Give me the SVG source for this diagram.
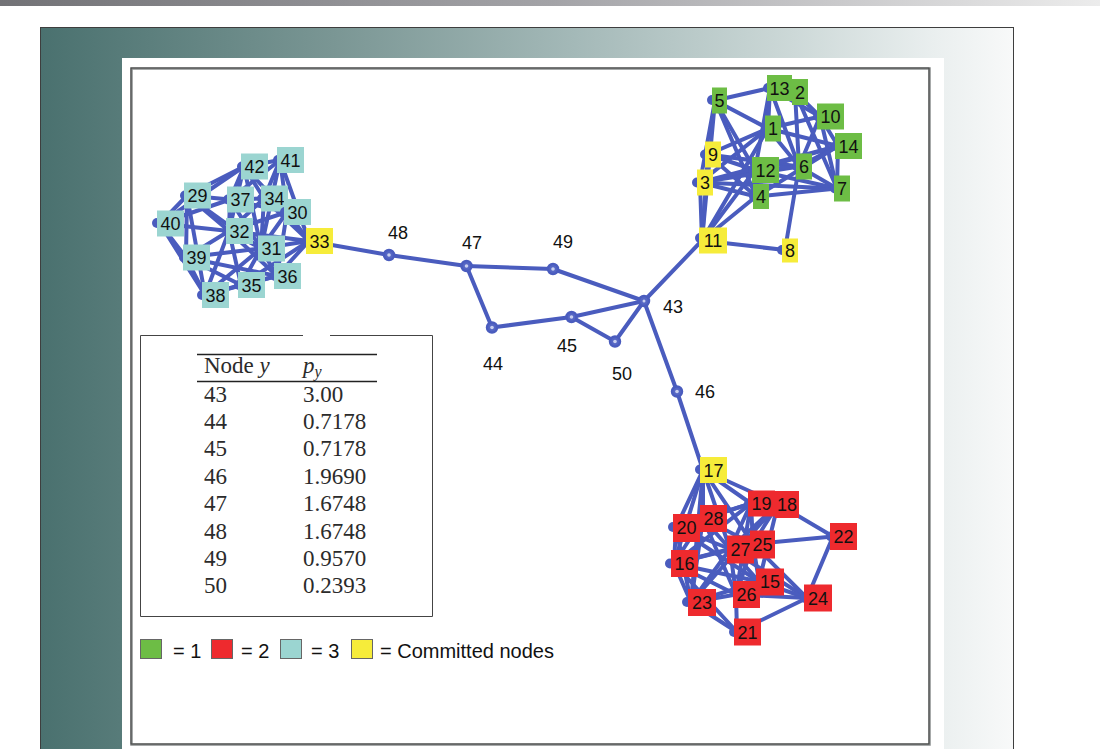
<svg xmlns="http://www.w3.org/2000/svg" width="1100" height="749" viewBox="0 0 1100 749">
<defs>
<linearGradient id="bar" x1="0" y1="0" x2="1" y2="0">
<stop offset="0" stop-color="#727276"/><stop offset="0.5" stop-color="#a3a3a7"/><stop offset="1" stop-color="#ececec"/>
</linearGradient>
<linearGradient id="panel" x1="0" y1="0" x2="1" y2="0">
<stop offset="0" stop-color="#4a716f"/><stop offset="0.3" stop-color="#7a9694"/><stop offset="0.55" stop-color="#a4b9b8"/><stop offset="0.75" stop-color="#c8d5d4"/><stop offset="0.92" stop-color="#eaefef"/><stop offset="1" stop-color="#f8f9f9"/>
</linearGradient>
<style>
.e{stroke:#4a5cbe;stroke-width:4;stroke-linecap:round;fill:none}
.c{fill:#5566c4;stroke:#4a5cbe;stroke-width:2.5}
.ci{fill:#c9d0ef}
.b{fill:#4a5cbe}
.g{fill:#6dbd45}
.r{fill:#ee2a2e}
.t{fill:#9bd5d1}
.y{fill:#f6ec3a}
.lb{font-family:"Liberation Sans",Arial,sans-serif;font-size:18px;fill:#111;text-anchor:middle}
.tb{font-family:"Liberation Serif","Times New Roman",serif;font-size:23px;fill:#2b2b2b}
.lg{font-family:"Liberation Sans",Arial,sans-serif;font-size:20px;fill:#111}
.sq{stroke:#666;stroke-width:1}
</style>
</defs>
<rect x="0" y="0" width="1100" height="6" fill="url(#bar)"/>
<rect x="40.5" y="27.5" width="973" height="730" fill="url(#panel)" stroke="#3e3e3e" stroke-width="1"/>
<rect x="122" y="58" width="822" height="700" fill="#ffffff"/>
<rect x="131.5" y="68.5" width="798" height="676" fill="#ffffff" stroke="#8a8f8e" stroke-width="2.5"/>
<rect x="131" y="68" width="798" height="676" fill="none" stroke="#444" stroke-width="1"/>

<g id="connectors">
<!-- middle -->
<line class="e" x1="309" y1="241" x2="389" y2="255"/>
<line class="e" x1="389" y1="255" x2="466.5" y2="266"/>
<line class="e" x1="466.5" y1="266" x2="553" y2="269"/>
<line class="e" x1="466.5" y1="266" x2="492" y2="327.5"/>
<line class="e" x1="553" y1="269" x2="644" y2="301"/>
<line class="e" x1="492" y1="327.5" x2="571.5" y2="317"/>
<line class="e" x1="571.5" y1="317" x2="644" y2="301"/>
<line class="e" x1="571.5" y1="317" x2="615" y2="341.5"/>
<line class="e" x1="615" y1="341.5" x2="644" y2="301"/>
<line class="e" x1="644" y1="301" x2="702" y2="240.5"/>
<line class="e" x1="644" y1="301" x2="677" y2="391.5"/>
<line class="e" x1="677" y1="391.5" x2="703" y2="470"/>
<!-- cyan cluster -->
<line class="e" x1="187" y1="195.5" x2="160" y2="223.5"/>
<line class="e" x1="187" y1="195.5" x2="230" y2="199.5"/>
<line class="e" x1="187" y1="195.5" x2="244" y2="166.5"/>
<line class="e" x1="187" y1="195.5" x2="186" y2="257.5"/>
<line class="e" x1="187" y1="195.5" x2="229" y2="231"/>
<line class="e" x1="187" y1="195.5" x2="205" y2="295"/>
<line class="e" x1="187" y1="195.5" x2="261" y2="248.5"/>
<line class="e" x1="160" y1="223.5" x2="186" y2="257.5"/>
<line class="e" x1="160" y1="223.5" x2="205" y2="295"/>
<line class="e" x1="160" y1="223.5" x2="229" y2="231"/>
<line class="e" x1="160" y1="223.5" x2="230" y2="199.5"/>
<line class="e" x1="160" y1="223.5" x2="244" y2="166.5"/>
<line class="e" x1="244" y1="166.5" x2="280" y2="160"/>
<line class="e" x1="244" y1="166.5" x2="230" y2="199.5"/>
<line class="e" x1="244" y1="166.5" x2="264" y2="198.5"/>
<line class="e" x1="244" y1="166.5" x2="287" y2="212"/>
<line class="e" x1="244" y1="166.5" x2="261" y2="248.5"/>
<line class="e" x1="244" y1="166.5" x2="229" y2="231"/>
<line class="e" x1="280" y1="160" x2="264" y2="198.5"/>
<line class="e" x1="280" y1="160" x2="287" y2="212"/>
<line class="e" x1="280" y1="160" x2="261" y2="248.5"/>
<line class="e" x1="280" y1="160" x2="309" y2="241"/>
<line class="e" x1="280" y1="160" x2="230" y2="199.5"/>
<line class="e" x1="230" y1="199.5" x2="264" y2="198.5"/>
<line class="e" x1="230" y1="199.5" x2="229" y2="231"/>
<line class="e" x1="230" y1="199.5" x2="261" y2="248.5"/>
<line class="e" x1="230" y1="199.5" x2="287" y2="212"/>
<line class="e" x1="264" y1="198.5" x2="287" y2="212"/>
<line class="e" x1="264" y1="198.5" x2="229" y2="231"/>
<line class="e" x1="264" y1="198.5" x2="261" y2="248.5"/>
<line class="e" x1="264" y1="198.5" x2="309" y2="241"/>
<line class="e" x1="287" y1="212" x2="309" y2="241"/>
<line class="e" x1="287" y1="212" x2="261" y2="248.5"/>
<line class="e" x1="287" y1="212" x2="277" y2="276"/>
<line class="e" x1="287" y1="212" x2="229" y2="231"/>
<line class="e" x1="229" y1="231" x2="261" y2="248.5"/>
<line class="e" x1="229" y1="231" x2="186" y2="257.5"/>
<line class="e" x1="229" y1="231" x2="205" y2="295"/>
<line class="e" x1="229" y1="231" x2="241" y2="285"/>
<line class="e" x1="229" y1="231" x2="309" y2="241"/>
<line class="e" x1="229" y1="231" x2="277" y2="276"/>
<line class="e" x1="261" y1="248.5" x2="309" y2="241"/>
<line class="e" x1="261" y1="248.5" x2="277" y2="276"/>
<line class="e" x1="261" y1="248.5" x2="241" y2="285"/>
<line class="e" x1="261" y1="248.5" x2="205" y2="295"/>
<line class="e" x1="186" y1="257.5" x2="205" y2="295"/>
<line class="e" x1="186" y1="257.5" x2="241" y2="285"/>
<line class="e" x1="186" y1="257.5" x2="261" y2="248.5"/>
<line class="e" x1="186" y1="257.5" x2="277" y2="276"/>
<line class="e" x1="205" y1="295" x2="241" y2="285"/>
<line class="e" x1="205" y1="295" x2="277" y2="276"/>
<line class="e" x1="241" y1="285" x2="277" y2="276"/>
<line class="e" x1="241" y1="285" x2="309" y2="241"/>
<line class="e" x1="277" y1="276" x2="309" y2="241"/>
<!-- green cluster -->
<line class="e" x1="715" y1="100.5" x2="770" y2="88"/>
<line class="e" x1="715" y1="100.5" x2="700" y2="182.5"/>
<line class="e" x1="715" y1="100.5" x2="702" y2="240.5"/>
<line class="e" x1="715" y1="100.5" x2="768" y2="128.5"/>
<line class="e" x1="715" y1="100.5" x2="756" y2="196.5"/>
<line class="e" x1="715" y1="100.5" x2="755" y2="170"/>
<line class="e" x1="770" y1="88" x2="795" y2="92"/>
<line class="e" x1="770" y1="88" x2="755" y2="170"/>
<line class="e" x1="770" y1="88" x2="799" y2="166.5"/>
<line class="e" x1="770" y1="88" x2="820" y2="116.5"/>
<line class="e" x1="770" y1="88" x2="768" y2="128.5"/>
<line class="e" x1="795" y1="92" x2="799" y2="166.5"/>
<line class="e" x1="795" y1="92" x2="820" y2="116.5"/>
<line class="e" x1="795" y1="92" x2="837" y2="188.5"/>
<line class="e" x1="768" y1="128.5" x2="708" y2="154.5"/>
<line class="e" x1="768" y1="128.5" x2="820" y2="116.5"/>
<line class="e" x1="768" y1="128.5" x2="702" y2="240.5"/>
<line class="e" x1="768" y1="128.5" x2="799" y2="166.5"/>
<line class="e" x1="768" y1="128.5" x2="700" y2="182.5"/>
<line class="e" x1="768" y1="128.5" x2="838" y2="146"/>
<line class="e" x1="708" y1="154.5" x2="755" y2="170"/>
<line class="e" x1="708" y1="154.5" x2="799" y2="166.5"/>
<line class="e" x1="708" y1="154.5" x2="756" y2="196.5"/>
<line class="e" x1="708" y1="154.5" x2="702" y2="240.5"/>
<line class="e" x1="700" y1="182.5" x2="755" y2="170"/>
<line class="e" x1="700" y1="182.5" x2="799" y2="166.5"/>
<line class="e" x1="700" y1="182.5" x2="838" y2="146"/>
<line class="e" x1="700" y1="182.5" x2="837" y2="188.5"/>
<line class="e" x1="700" y1="182.5" x2="756" y2="196.5"/>
<line class="e" x1="700" y1="182.5" x2="702" y2="240.5"/>
<line class="e" x1="755" y1="170" x2="838" y2="146"/>
<line class="e" x1="755" y1="170" x2="799" y2="166.5"/>
<line class="e" x1="755" y1="170" x2="837" y2="188.5"/>
<line class="e" x1="755" y1="170" x2="756" y2="196.5"/>
<line class="e" x1="755" y1="170" x2="702" y2="240.5"/>
<line class="e" x1="799" y1="166.5" x2="838" y2="146"/>
<line class="e" x1="799" y1="166.5" x2="837" y2="188.5"/>
<line class="e" x1="799" y1="166.5" x2="820" y2="116.5"/>
<line class="e" x1="799" y1="166.5" x2="785" y2="250"/>
<line class="e" x1="820" y1="116.5" x2="838" y2="146"/>
<line class="e" x1="820" y1="116.5" x2="837" y2="188.5"/>
<line class="e" x1="838" y1="146" x2="837" y2="188.5"/>
<line class="e" x1="756" y1="196.5" x2="837" y2="188.5"/>
<line class="e" x1="756" y1="196.5" x2="838" y2="146"/>
<line class="e" x1="756" y1="196.5" x2="702" y2="240.5"/>
<line class="e" x1="702" y1="240.5" x2="785" y2="250"/>
<!-- red cluster -->
<line class="e" x1="703" y1="470" x2="751" y2="503.5"/>
<line class="e" x1="703" y1="470" x2="778" y2="504"/>
<line class="e" x1="703" y1="470" x2="703" y2="518.5"/>
<line class="e" x1="703" y1="470" x2="676" y2="527.5"/>
<line class="e" x1="703" y1="470" x2="674" y2="563.5"/>
<line class="e" x1="703" y1="470" x2="730" y2="549"/>
<line class="e" x1="703" y1="470" x2="753" y2="544"/>
<line class="e" x1="703" y1="470" x2="691" y2="602.5"/>
<line class="e" x1="751" y1="503.5" x2="778" y2="504"/>
<line class="e" x1="751" y1="503.5" x2="703" y2="518.5"/>
<line class="e" x1="751" y1="503.5" x2="730" y2="549"/>
<line class="e" x1="751" y1="503.5" x2="753" y2="544"/>
<line class="e" x1="751" y1="503.5" x2="736" y2="594.5"/>
<line class="e" x1="751" y1="503.5" x2="674" y2="563.5"/>
<line class="e" x1="751" y1="503.5" x2="676" y2="527.5"/>
<line class="e" x1="778" y1="504" x2="833" y2="536.5"/>
<line class="e" x1="778" y1="504" x2="753" y2="544"/>
<line class="e" x1="778" y1="504" x2="730" y2="549"/>
<line class="e" x1="778" y1="504" x2="759" y2="581.5"/>
<line class="e" x1="778" y1="504" x2="691" y2="602.5"/>
<line class="e" x1="833" y1="536.5" x2="753" y2="544"/>
<line class="e" x1="833" y1="536.5" x2="807" y2="598"/>
<line class="e" x1="703" y1="518.5" x2="676" y2="527.5"/>
<line class="e" x1="703" y1="518.5" x2="730" y2="549"/>
<line class="e" x1="703" y1="518.5" x2="753" y2="544"/>
<line class="e" x1="703" y1="518.5" x2="674" y2="563.5"/>
<line class="e" x1="703" y1="518.5" x2="691" y2="602.5"/>
<line class="e" x1="703" y1="518.5" x2="736" y2="594.5"/>
<line class="e" x1="676" y1="527.5" x2="674" y2="563.5"/>
<line class="e" x1="676" y1="527.5" x2="691" y2="602.5"/>
<line class="e" x1="676" y1="527.5" x2="730" y2="549"/>
<line class="e" x1="676" y1="527.5" x2="759" y2="581.5"/>
<line class="e" x1="730" y1="549" x2="753" y2="544"/>
<line class="e" x1="730" y1="549" x2="674" y2="563.5"/>
<line class="e" x1="730" y1="549" x2="691" y2="602.5"/>
<line class="e" x1="730" y1="549" x2="736" y2="594.5"/>
<line class="e" x1="730" y1="549" x2="759" y2="581.5"/>
<line class="e" x1="730" y1="549" x2="807" y2="598"/>
<line class="e" x1="753" y1="544" x2="759" y2="581.5"/>
<line class="e" x1="753" y1="544" x2="736" y2="594.5"/>
<line class="e" x1="753" y1="544" x2="807" y2="598"/>
<line class="e" x1="753" y1="544" x2="674" y2="563.5"/>
<line class="e" x1="674" y1="563.5" x2="691" y2="602.5"/>
<line class="e" x1="674" y1="563.5" x2="736" y2="594.5"/>
<line class="e" x1="674" y1="563.5" x2="759" y2="581.5"/>
<line class="e" x1="674" y1="563.5" x2="737" y2="632"/>
<line class="e" x1="759" y1="581.5" x2="736" y2="594.5"/>
<line class="e" x1="759" y1="581.5" x2="807" y2="598"/>
<line class="e" x1="759" y1="581.5" x2="691" y2="602.5"/>
<line class="e" x1="736" y1="594.5" x2="691" y2="602.5"/>
<line class="e" x1="736" y1="594.5" x2="807" y2="598"/>
<line class="e" x1="736" y1="594.5" x2="737" y2="632"/>
<line class="e" x1="691" y1="602.5" x2="737" y2="632"/>
<line class="e" x1="737" y1="632" x2="807" y2="598"/>
</g>

<g id="middle-nodes">
<g id="n48"><circle class="c" cx="389" cy="255" r="5"/><circle class="ci" cx="389" cy="255" r="1.8"/><text class="lb" x="398" y="239">48</text></g>
<g id="n47"><circle class="c" cx="466.5" cy="266" r="5"/><circle class="ci" cx="466.5" cy="266" r="1.8"/><text class="lb" x="472" y="249">47</text></g>
<g id="n49"><circle class="c" cx="553" cy="269" r="5"/><circle class="ci" cx="553" cy="269" r="1.8"/><text class="lb" x="563" y="247.5">49</text></g>
<g id="n43"><circle class="c" cx="644" cy="301" r="5"/><circle class="ci" cx="644" cy="301" r="1.5"/><text class="lb" x="673" y="313">43</text></g>
<g id="n44"><circle class="c" cx="492" cy="327.5" r="5"/><circle class="ci" cx="492" cy="327.5" r="1.8"/><text class="lb" x="493" y="370">44</text></g>
<g id="n45"><circle class="c" cx="571.5" cy="317" r="5"/><circle class="ci" cx="571.5" cy="317" r="1.8"/><text class="lb" x="567" y="351.5">45</text></g>
<g id="n50"><circle class="c" cx="615" cy="341.5" r="5"/><circle class="ci" cx="615" cy="341.5" r="1.8"/><text class="lb" x="622" y="380">50</text></g>
<g id="n46"><circle class="c" cx="677" cy="391.5" r="5"/><circle class="ci" cx="677" cy="391.5" r="1.8"/><text class="lb" x="705" y="398">46</text></g>
</g>

<g id="cyan-nodes">
<g id="n42"><circle class="b" cx="242" cy="166.5" r="5"/><rect class="t" x="241" y="153.5" width="27" height="26"/><text class="lb" x="254.5" y="173">42</text></g>
<g id="n41"><circle class="b" cx="278" cy="160" r="5"/><rect class="t" x="277" y="147" width="27" height="26"/><text class="lb" x="290.5" y="166.5">41</text></g>
<g id="n29"><circle class="b" cx="185" cy="195.5" r="5"/><rect class="t" x="184" y="182.5" width="27" height="26"/><text class="lb" x="197.5" y="202">29</text></g>
<g id="n37"><circle class="b" cx="228" cy="199.5" r="5"/><rect class="t" x="227" y="186.5" width="27" height="26"/><text class="lb" x="240.5" y="206">37</text></g>
<g id="n34"><circle class="b" cx="262" cy="198.5" r="5"/><rect class="t" x="261" y="185.5" width="27" height="26"/><text class="lb" x="274.5" y="205">34</text></g>
<g id="n30"><circle class="b" cx="285" cy="212" r="5"/><rect class="t" x="284" y="199" width="27" height="26"/><text class="lb" x="297.5" y="218.5">30</text></g>
<g id="n40"><circle class="b" cx="157" cy="223" r="5"/><rect class="t" x="157" y="210.5" width="27" height="26"/><text class="lb" x="170.5" y="230">40</text></g>
<g id="n32"><circle class="b" cx="227" cy="231" r="5"/><rect class="t" x="226" y="218" width="27" height="26"/><text class="lb" x="239.5" y="237.5">32</text></g>
<g id="n31"><circle class="b" cx="259" cy="248.5" r="5"/><rect class="t" x="258" y="235.5" width="27" height="26"/><text class="lb" x="271.5" y="255">31</text></g>
<g id="n39"><circle class="b" cx="184" cy="257.5" r="5"/><rect class="t" x="183" y="244.5" width="27" height="26"/><text class="lb" x="196.5" y="264">39</text></g>
<g id="n36"><circle class="b" cx="275" cy="276" r="5"/><rect class="t" x="274" y="263" width="27" height="26"/><text class="lb" x="287.5" y="282.5">36</text></g>
<g id="n35"><circle class="b" cx="239" cy="285" r="5"/><rect class="t" x="238" y="272" width="27" height="26"/><text class="lb" x="251.5" y="291.5">35</text></g>
<g id="n38"><circle class="b" cx="202" cy="295" r="5"/><rect class="t" x="202" y="282" width="27" height="26"/><text class="lb" x="215.5" y="301.5">38</text></g>
<g id="n33"><circle class="b" cx="307" cy="241" r="5"/><rect class="y" x="306" y="228" width="27" height="26"/><text class="lb" x="319.5" y="247.5">33</text></g>
</g>

<g id="green-nodes">
<g id="n5"><circle class="b" cx="712" cy="100" r="5"/><rect class="g" x="712" y="87.5" width="15" height="26"/><text class="lb" x="719.5" y="107">5</text></g>
<g id="n13"><circle class="b" cx="768" cy="88" r="5"/><rect class="g" x="767" y="75" width="25" height="26"/><text class="lb" x="779.5" y="94.5">13</text></g>
<g id="n2"><rect class="g" x="792" y="79" width="16" height="26"/><text class="lb" x="800" y="98.5">2</text></g>
<g id="n10"><circle class="b" cx="818" cy="116.5" r="5"/><rect class="g" x="817" y="103.5" width="27" height="26"/><text class="lb" x="830.5" y="123">10</text></g>
<g id="n1"><circle class="b" cx="766" cy="128.5" r="5"/><rect class="g" x="765" y="115.5" width="16" height="26"/><text class="lb" x="773" y="135">1</text></g>
<g id="n14"><circle class="b" cx="836" cy="146" r="5"/><rect class="g" x="835" y="133" width="27" height="26"/><text class="lb" x="848.5" y="152.5">14</text></g>
<g id="n9"><circle class="b" cx="705" cy="154.5" r="5"/><rect class="y" x="705" y="141.5" width="16" height="26"/><text class="lb" x="713" y="161">9</text></g>
<g id="n12"><circle class="b" cx="753" cy="170" r="5"/><rect class="g" x="752" y="157" width="27" height="26"/><text class="lb" x="765.5" y="176.5">12</text></g>
<g id="n6"><circle class="b" cx="797" cy="166.5" r="5"/><rect class="g" x="796" y="153.5" width="16" height="26"/><text class="lb" x="804" y="173">6</text></g>
<g id="n3"><circle class="b" cx="697" cy="182.5" r="5"/><rect class="y" x="697" y="169.5" width="16" height="26"/><text class="lb" x="705" y="189">3</text></g>
<g id="n7"><circle class="b" cx="835" cy="188.5" r="5"/><rect class="g" x="834" y="175.5" width="16" height="26"/><text class="lb" x="842" y="195">7</text></g>
<g id="n4"><circle class="b" cx="754" cy="196.5" r="5"/><rect class="g" x="753" y="184" width="16" height="25"/><text class="lb" x="761" y="203">4</text></g>
<g id="n11"><circle class="b" cx="700" cy="238" r="5"/><rect class="y" x="699" y="227.5" width="28" height="26"/><text class="lb" x="713" y="247">11</text></g>
<g id="n8"><circle class="b" cx="782" cy="250" r="5"/><rect class="y" x="782" y="238.5" width="16" height="24"/><text class="lb" x="790" y="256.5">8</text></g>
</g>

<g id="red-nodes">
<g id="n17"><circle class="b" cx="700" cy="469.5" r="5"/><rect class="y" x="700" y="457" width="27" height="26"/><text class="lb" x="713.5" y="476.5">17</text></g>
<g id="n19"><circle class="b" cx="749" cy="503.5" r="5"/><rect class="r" x="748" y="490.5" width="27" height="26"/><text class="lb" x="761.5" y="510">19</text></g>
<g id="n18"><rect class="r" x="775" y="491" width="24" height="27"/><text class="lb" x="787" y="510.5">18</text></g>
<g id="n28"><rect class="r" x="700" y="505" width="27" height="27"/><text class="lb" x="713.5" y="525">28</text></g>
<g id="n20"><circle class="b" cx="673" cy="527" r="5"/><rect class="r" x="673" y="514" width="27" height="28"/><text class="lb" x="686.5" y="534">20</text></g>
<g id="n22"><circle class="b" cx="831" cy="536.5" r="5"/><rect class="r" x="830" y="523" width="27" height="27"/><text class="lb" x="843.5" y="543">22</text></g>
<g id="n27"><rect class="r" x="727" y="535.5" width="27" height="28"/><text class="lb" x="740.5" y="556">27</text></g>
<g id="n25"><rect class="r" x="750" y="530.5" width="25" height="28"/><text class="lb" x="762.5" y="550.5">25</text></g>
<g id="n16"><circle class="b" cx="670" cy="563.5" r="5"/><rect class="r" x="671" y="550" width="27" height="27"/><text class="lb" x="684.5" y="570">16</text></g>
<g id="n15"><rect class="r" x="756" y="568.5" width="28" height="27"/><text class="lb" x="770" y="588">15</text></g>
<g id="n26"><rect class="r" x="733" y="581" width="27" height="27"/><text class="lb" x="746.5" y="601">26</text></g>
<g id="n24"><circle class="b" cx="805" cy="598" r="5"/><rect class="r" x="804" y="584.5" width="28" height="27"/><text class="lb" x="818" y="604.5">24</text></g>
<g id="n23"><circle class="b" cx="687" cy="602" r="5"/><rect class="r" x="688" y="589" width="28" height="27"/><text class="lb" x="702" y="609">23</text></g>
<g id="n21"><circle class="b" cx="734" cy="632" r="5"/><rect class="r" x="734" y="618.5" width="27" height="27"/><text class="lb" x="747.5" y="638.5">21</text></g>
</g>

<g id="table">
<path d="M303 335.5 H140.5 V616.5 H432.5 V335.5 H330" fill="none" stroke="#444" stroke-width="1"/>
<line x1="197" y1="354.5" x2="377" y2="354.5" stroke="#222" stroke-width="1.3"/>
<line x1="197" y1="381.5" x2="377" y2="381.5" stroke="#222" stroke-width="1.3"/>
<text class="tb" x="204" y="373">Node <tspan font-style="italic">y</tspan></text>
<text class="tb" x="303" y="373"><tspan font-style="italic">p</tspan><tspan font-style="italic" font-size="16" dy="4">y</tspan></text>
<text class="tb" x="204" y="401.5">43</text><text class="tb" x="303" y="401.5">3.00</text>
<text class="tb" x="204" y="428.9">44</text><text class="tb" x="303" y="428.9">0.7178</text>
<text class="tb" x="204" y="456.3">45</text><text class="tb" x="303" y="456.3">0.7178</text>
<text class="tb" x="204" y="483.7">46</text><text class="tb" x="303" y="483.7">1.9690</text>
<text class="tb" x="204" y="511.1">47</text><text class="tb" x="303" y="511.1">1.6748</text>
<text class="tb" x="204" y="538.5">48</text><text class="tb" x="303" y="538.5">1.6748</text>
<text class="tb" x="204" y="565.9">49</text><text class="tb" x="303" y="565.9">0.9570</text>
<text class="tb" x="204" y="593.3">50</text><text class="tb" x="303" y="593.3">0.2393</text>
</g>

<g id="legend">
<rect class="g sq" x="140.5" y="639.5" width="21" height="19"/>
<text class="lg" x="173" y="657.5">= 1</text>
<rect class="r sq" x="211.5" y="639.5" width="21" height="19"/>
<text class="lg" x="241" y="657.5">= 2</text>
<rect class="t sq" x="280.5" y="639.5" width="21" height="19"/>
<text class="lg" x="311" y="657.5">= 3</text>
<rect class="y sq" x="351.5" y="639.5" width="21" height="19"/>
<text class="lg" x="380" y="657.5">= Committed nodes</text>
</g>
</svg>
